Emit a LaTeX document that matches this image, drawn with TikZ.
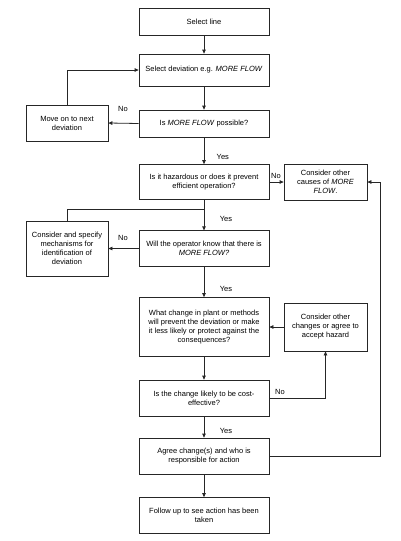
\documentclass[tikz,border=0pt]{standalone}
\usepackage{fontspec}
\setmainfont{Liberation Sans}
\usetikzlibrary{arrows.meta}
\begin{document}
\begin{tikzpicture}[x=1pt,y=-1pt,
  box/.style={draw=black!85, line width=0.8pt, inner sep=0pt, align=center,
    font=\fontsize{7.5}{9}\selectfont},
  mainbox/.style={box, minimum width=130pt},
  sidebox/.style={box, minimum width=82pt},
  rbox/.style={box, minimum width=83pt},
  conn/.style={draw=black!85, line width=0.8pt},
  arr/.style={conn, -{Triangle[length=4pt,width=3.6pt]}},
  lbl/.style={font=\fontsize{7.5}{9}\selectfont, inner sep=0pt}]
\useasboundingbox (0,0) rectangle (400,541);
\fill[white] (0,0) rectangle (400,541);

\node[mainbox, minimum height=27pt] (b1) at (204,21.5) {Select line};
\node[mainbox, minimum height=32pt] (b2) at (204,70) {Select deviation e.g. \textit{MORE FLOW}};
\node[mainbox, minimum height=27pt] (b3) at (204,123.5) {Is \textit{MORE FLOW} possible?};
\node[sidebox, minimum height=36pt] (l1) at (67,123) {Move on to next\\deviation};
\node[mainbox, minimum height=35pt] (b4) at (204,182) {Is it hazardous or does it prevent\\efficient operation?};
\node[rbox, minimum height=36pt] (r1) at (325.5,182) {Consider other\\causes of \textit{MORE}\\\textit{FLOW}.};
\node[mainbox, minimum height=35.5pt] (b5) at (204,248.5) {Will the operator know that there is\\\textit{MORE FLOW?}};
\node[sidebox, minimum height=55pt] (l2) at (67,248.5) {Consider and specify\\mechanisms for\\identification of\\deviation};
\node[mainbox, minimum height=59pt] (b6) at (204,327) {What change in plant or methods\\will prevent the deviation or make\\it less likely or protect against the\\consequences?};
\node[rbox, minimum height=48pt] (r2) at (325.5,327) {Consider other\\changes or agree to\\accept hazard};
\node[mainbox, minimum height=36pt] (b7) at (204,398) {Is the change likely to be cost-\\effective?};
\node[mainbox, minimum height=36pt] (b8) at (204,456) {Agree change(s) and who is\\responsible for action};
\node[mainbox, minimum height=36pt] (b9) at (204,515.5) {Follow up to see action has been\\taken};

\coordinate (br) at (204,209);
\coordinate (ret) at (380,456);

\draw[arr] (b1) -- (b2);
\draw[arr] (b2) -- (b3);
\draw[arr] (b3.west) -- (l1.east);
\draw[arr] (l1.north) |- (b2.west);
\draw[arr] (b3) -- (b4);
\draw[arr] (b4.east) -- (r1.west);
\draw[arr] (b4) -- (b5);
\draw[conn] (br) -| (l2.north);
\draw[arr] (b5.west) -- (l2.east);
\draw[arr] (b5) -- (b6);
\draw[arr] (r2.west) -- (b6.east);
\draw[arr] (b6) -- (b7);
\draw[arr] (b7.east) -| (r2.south);
\draw[arr] (b7) -- (b8);
\draw[arr] (b8.east) -- (ret) |- (r1.east);
\draw[arr] (b8) -- (b9);

\node[lbl] (n1) at (123,109) {No};
\node[lbl] (n2) at (276,175.7) {No};
\node[lbl] (n3) at (123,238.3) {No};
\node[lbl] (n4) at (280,391.7) {No};
\node[lbl] (y1) at (222.8,157.3) {Yes};
\node[lbl] (y2) at (226,219) {Yes};
\node[lbl] (y3) at (226,289.3) {Yes};
\node[lbl] (y4) at (226,430.7) {Yes};
\end{tikzpicture}
\end{document}
